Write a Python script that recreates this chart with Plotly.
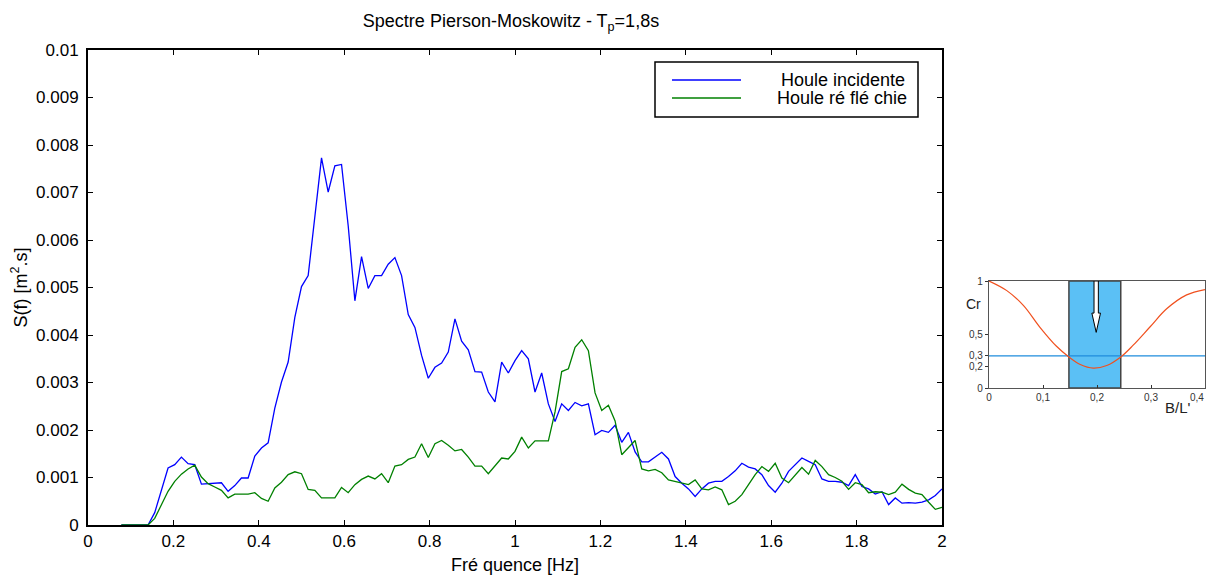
import numpy as np
import plotly.graph_objects as go

# the page body adds an 8 px margin, so the figure is sized to the visible area
OFF = 8
W, H = 1214 - OFF, 575 - OFF

# ---------------- data ----------------
# frequency grid (bins of 1/64 Hz from 5/64 to 2 Hz)
freq = np.arange(5, 129) / 64.0

# incident wave spectrum, in units of 1e-3 m^2.s
houle_incidente = [
    0, 0, 0, 0, 0,
    0.26, 0.72, 1.20, 1.27, 1.43, 1.29, 1.27, 0.86, 0.87, 0.87,
    0.89, 0.71, 0.83, 0.99, 0.99, 1.45, 1.62, 1.73, 2.46, 3.01,
    3.43, 4.37, 5.02, 5.25, 6.47, 7.73, 7.01, 7.56, 7.59, 6.30,
    4.72, 5.65, 4.98, 5.25, 5.25, 5.49, 5.63, 5.25, 4.43, 4.16,
    3.57, 3.09, 3.32, 3.41, 3.64, 4.34, 3.87, 3.69, 3.23, 3.22,
    2.80, 2.59, 3.43, 3.20, 3.46, 3.67, 3.50, 2.80, 3.20, 2.55,
    2.18, 2.55, 2.41, 2.58, 2.51, 2.55, 1.90, 1.99, 1.95, 2.10,
    1.74, 1.95, 1.54, 1.33, 1.33, 1.43, 1.53, 1.39, 1.02, 0.88,
    0.76, 0.60, 0.76, 0.88, 0.92, 0.92, 1.02, 1.14, 1.30, 1.22,
    1.18, 1.06, 0.83, 0.69, 0.88, 1.13, 1.27, 1.41, 1.34, 1.27,
    0.97, 0.92, 0.92, 0.90, 0.83, 1.06, 0.81, 0.76, 0.65, 0.70,
    0.43, 0.57, 0.46, 0.47, 0.46, 0.48, 0.53, 0.62, 0.76,
]

# reflected wave spectrum, in units of 1e-3 m^2.s
houle_reflechie = [
    0, 0, 0, 0, 0,
    0.14, 0.42, 0.71, 0.92, 1.07, 1.18, 1.26, 1.01, 0.87, 0.80,
    0.73, 0.57, 0.65, 0.65, 0.65, 0.68, 0.56, 0.50, 0.78, 0.90,
    1.06, 1.12, 1.08, 0.75, 0.73, 0.57, 0.57, 0.57, 0.79, 0.68,
    0.85, 0.96, 1.03, 0.97, 1.08, 0.89, 1.24, 1.27, 1.38, 1.43,
    1.71, 1.42, 1.71, 1.78, 1.68, 1.56, 1.59, 1.43, 1.24, 1.24,
    1.08, 1.24, 1.41, 1.39, 1.55, 1.85, 1.62, 1.77, 1.77, 1.77,
    2.38, 3.23, 3.29, 3.74, 3.90, 3.67, 2.78, 2.41, 2.52, 2.19,
    1.48, 1.64, 1.78, 1.18, 1.14, 1.17, 1.10, 0.95, 0.92, 0.88,
    0.85, 0.95, 0.76, 0.74, 0.80, 0.74, 0.43, 0.50, 0.64, 0.85,
    1.06, 1.23, 1.13, 1.30, 0.99, 0.89, 1.06, 1.21, 1.07, 1.36,
    1.23, 1.06, 1.00, 0.92, 0.75, 0.89, 0.85, 0.68, 0.70, 0.69,
    0.64, 0.69, 0.86, 0.75, 0.67, 0.64, 0.48, 0.33, 0.37,
]

x_tickvals = [0, 0.2, 0.4, 0.6, 0.8, 1.0, 1.2, 1.4, 1.6, 1.8, 2.0]
x_ticktext = ["0", "0.2", "0.4", "0.6", "0.8", "1", "1.2", "1.4", "1.6", "1.8", "2"]
y_tickvals = [0, 0.001, 0.002, 0.003, 0.004, 0.005, 0.006, 0.007, 0.008, 0.009, 0.01]
y_ticktext = ["0", "0.001", "0.002", "0.003", "0.004", "0.005", "0.006",
              "0.007", "0.008", "0.009", "0.01"]

# inset: reflection coefficient Cr vs B/L'
inset_bl = [0.0, 0.033, 0.064, 0.094, 0.125, 0.148, 0.169, 0.193,
            0.218, 0.244, 0.267, 0.298, 0.329, 0.366, 0.4]
inset_cr = [1.0, 0.91, 0.77, 0.57, 0.39, 0.29, 0.22, 0.186,
            0.21, 0.29, 0.40, 0.57, 0.74, 0.87, 0.92]
inset_threshold = 0.3
inset_band = [0.148, 0.244]
inset_xticks = [0, 0.1, 0.2, 0.3]
inset_xtext = ["0", "0,1", "0,2", "0,3"]
inset_yticks = [0, 0.2, 0.3, 0.5, 1]
inset_ytext = ["0", "0,2", "0,3", "0,5", "1"]

FONT = "Liberation Sans, Arial, sans-serif"

def px(x):
    return (x - OFF) / W

def py(y):
    return 1 - (y - OFF) / H

fig = go.Figure()

fig.add_trace(go.Scatter(
    x=freq, y=np.array(houle_incidente) * 1e-3, mode="lines",
    line=dict(color="#0000FF", width=1.3), name="Houle incidente",
    showlegend=False, xaxis="x", yaxis="y"))
fig.add_trace(go.Scatter(
    x=freq, y=np.array(houle_reflechie) * 1e-3, mode="lines",
    line=dict(color="#008000", width=1.3), name="Houle réfléchie",
    showlegend=False, xaxis="x", yaxis="y"))

# inset traces
fig.add_trace(go.Scatter(
    x=[0, 0.4], y=[inset_threshold, inset_threshold], mode="lines",
    line=dict(color="#1E8CDC", width=1.3), showlegend=False,
    xaxis="x2", yaxis="y2", hoverinfo="skip"))
fig.add_trace(go.Scatter(
    x=inset_bl, y=inset_cr, mode="lines", line_shape="spline",
    line=dict(color="#F0501E", width=1.2), showlegend=False,
    xaxis="x2", yaxis="y2"))

main_axis_common = dict(
    showline=True, linecolor="black", linewidth=2, mirror="ticks",
    ticks="inside", ticklen=5, tickwidth=1.2, tickcolor="black",
    showgrid=False, zeroline=False, automargin=False,
    tickfont=dict(family=FONT, size=17, color="black"),
)

shapes = [
    # inset band
    dict(type="rect", xref="x2", yref="y2", x0=inset_band[0], x1=inset_band[1],
         y0=0, y1=1, fillcolor="#5BC0F5", line=dict(color="#444444", width=1.5),
         layer="below"),
    # inset arrow
    dict(type="path", xref="x2", yref="y2",
         path="M 0.1945,1 L 0.1945,0.70 L 0.1905,0.70 L 0.1985,0.52 "
              "L 0.2065,0.70 L 0.2025,0.70 L 0.2025,1 Z",
         fillcolor="white", line=dict(color="black", width=1), layer="above"),
    # legend box
    dict(type="rect", xref="paper", yref="paper",
         x0=px(655), x1=px(918), y0=py(117), y1=py(62),
         fillcolor="white", line=dict(color="black", width=1.5)),
    dict(type="line", xref="paper", yref="paper",
         x0=px(672), x1=px(741), y0=py(80), y1=py(80),
         line=dict(color="#0000FF", width=1.3)),
    dict(type="line", xref="paper", yref="paper",
         x0=px(672), x1=px(741), y0=py(98), y1=py(98),
         line=dict(color="#008000", width=1.3)),
]

annotations = [
    dict(text="Houle incidente", xref="paper", yref="paper", x=px(907), y=py(80),
         xanchor="right", yanchor="middle", showarrow=False,
         font=dict(family=FONT, size=18, color="black")),
    dict(text="Houle ré flé chie", xref="paper", yref="paper", x=px(909), y=py(98),
         xanchor="right", yanchor="middle", showarrow=False,
         font=dict(family=FONT, size=18, color="black")),
    dict(text="Cr", xref="paper", yref="paper", x=px(973), y=py(304),
         xanchor="center", yanchor="middle", showarrow=False,
         font=dict(family=FONT, size=14, color="#222222")),
    dict(text="B/L'", xref="paper", yref="paper", x=px(1178), y=py(407),
         xanchor="center", yanchor="middle", showarrow=False,
         font=dict(family=FONT, size=15, color="#222222")),
    dict(text="0,4", xref="paper", yref="paper", x=px(1206), y=py(397),
         xanchor="right", yanchor="middle", showarrow=False,
         font=dict(family=FONT, size=10, color="#333333")),
]

fig.update_layout(
    width=W, height=H, autosize=False,
    margin=dict(l=0, r=0, t=0, b=0, pad=0),
    paper_bgcolor="white", plot_bgcolor="white",
    font=dict(family=FONT, color="black"),
    title=dict(text="Spectre Pierson-Moskowitz - T<sub>p</sub>=1,8s",
               x=px(511), xanchor="center", xref="paper",
               y=py(21), yanchor="middle", yref="paper", automargin=False,
               font=dict(family=FONT, size=18, color="black")),
    xaxis=dict(domain=[px(88), px(942)], range=[0, 2],
               tickvals=x_tickvals, ticktext=x_ticktext,
               title=dict(text="Fré quence [Hz]", standoff=8,
                          font=dict(family=FONT, size=18, color="black")),
               anchor="y", **main_axis_common),
    yaxis=dict(domain=[py(525), py(50)], range=[0, 0.01],
               tickvals=y_tickvals, ticktext=y_ticktext,
               ticklabelstandoff=4,
               title=dict(text="S(f) [m<sup>2</sup>.s]", standoff=8,
                          font=dict(family=FONT, size=18, color="black")),
               anchor="x", **main_axis_common),
    xaxis2=dict(domain=[px(989), px(1205)], range=[0, 0.4],
                tickvals=inset_xticks, ticktext=inset_xtext,
                showline=True, linecolor="#555555", linewidth=1.2, mirror=True,
                ticks="inside", ticklen=3, tickcolor="#333333",
                showgrid=False, zeroline=False, anchor="y2", automargin=False,
                tickfont=dict(family=FONT, size=10, color="#333333")),
    yaxis2=dict(domain=[py(388), py(281)], range=[0, 1],
                tickvals=inset_yticks, ticktext=inset_ytext,
                showline=True, linecolor="#555555", linewidth=1.2, mirror=True,
                ticks="outside", ticklen=3, tickcolor="#333333",
                showgrid=False, zeroline=False, anchor="x2", automargin=False,
                tickfont=dict(family=FONT, size=10, color="#333333")),
    shapes=shapes,
    annotations=annotations,
    showlegend=False,
)

fig.write_html("out.html")
